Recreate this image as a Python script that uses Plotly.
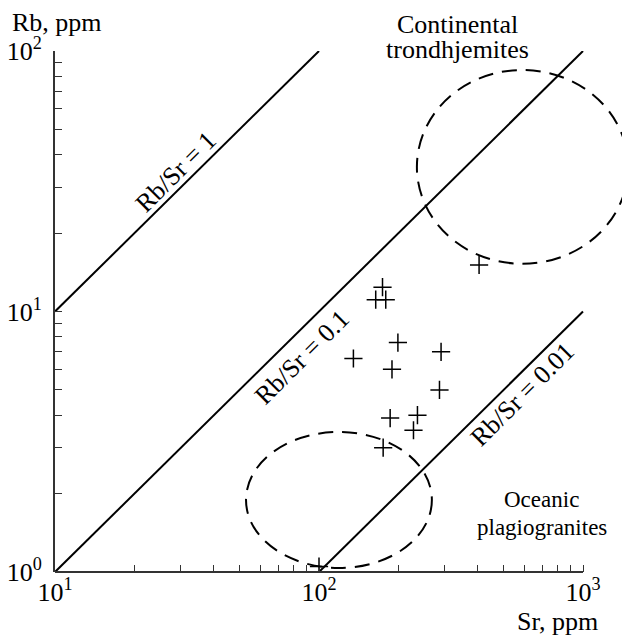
import math
import plotly.graph_objects as go

# ---------------- data ----------------
sr_points = [199, 290, 135, 189, 286, 186, 236, 228, 175, 404, 100, 174, 164, 179]
rb_points = [7.6, 7.0, 6.6, 6.0, 5.0, 3.9, 4.0, 3.5, 3.0, 15.1, 1.05, 12.4, 11.1, 11.1]

ratio_values = [1, 0.1, 0.01]
ratio_sr_start = [10, 10, 100]
ratio_sr_end = [100, 1000, 1000]
ratio_labels = ["Rb/Sr = 1", "Rb/Sr = 0.1", "Rb/Sr = 0.01"]

# fields: centre (Sr, Rb) and half-widths in decades
field_names = ["Continental trondhjemites", "Oceanic plagiogranites"]
field_center_sr = [590, 119]
field_center_rb = [35.9, 1.89]
field_half_dec_sr = [0.40, 0.352]
field_half_dec_rb = [0.372, 0.261]

x_tickvals = [10, 20, 30, 40, 50, 60, 70, 80, 90, 100, 200, 300, 400, 500, 600, 700, 800, 900, 1000]
y_tickvals = [1, 2, 3, 4, 5, 6, 7, 8, 9, 10, 20, 30, 40, 50, 60, 70, 80, 90, 100]
major_labels = {1: "10<sup>0</sup>", 10: "10<sup>1</sup>", 100: "10<sup>2</sup>", 1000: "10<sup>3</sup>"}

FONT = "Liberation Serif"
FS = 26
PAGE_OFF = 8  # default body margin of the html page
W, H = 630 - PAGE_OFF, 638 - PAGE_OFF
ML, MR, MT, MB = 55 - PAGE_OFF, 0, 51 - PAGE_OFF, 66
X_DEC = 264.0
PW = W - ML - MR
PH = H - MT - MB
x_span = PW / X_DEC

fig = go.Figure()

# ratio lines
for r, s0, s1 in zip(ratio_values, ratio_sr_start, ratio_sr_end):
    fig.add_trace(go.Scatter(x=[s0, s1], y=[r * s0, r * s1], mode="lines",
                             line=dict(color="black", width=2),
                             hoverinfo="skip", showlegend=False))

# sample points
fig.add_trace(go.Scatter(x=sr_points, y=rb_points, mode="markers",
                         marker=dict(symbol="cross-thin", size=13, color="black",
                                     line=dict(color="black", width=1.5)),
                         showlegend=False))

# dashed fields as ellipses in log space
for cs, cr, hx, hy in zip(field_center_sr, field_center_rb, field_half_dec_sr, field_half_dec_rb):
    lx, ly = math.log10(cs), math.log10(cr)
    fig.add_shape(type="circle", xref="x", yref="y",
                  x0=10 ** (lx - hx), x1=10 ** (lx + hx),
                  y0=10 ** (ly - hy), y1=10 ** (ly + hy),
                  line=dict(color="black", width=2, dash="15px,9px"))

# bottom axis line (only up to 10^3)
fig.add_shape(type="line", xref="x", yref="paper", x0=10, x1=1000, y0=0, y1=0,
              line=dict(color="#333", width=2))

# helpers: page pixel -> paper fraction
def pxp(px):
    return (px - PAGE_OFF - ML) / PW

def pyp(py):
    return (PAGE_OFF + MT + PH - py) / PH

def txt_ann(text, px, py, angle=0, xanchor="center", size=FS):
    fig.add_annotation(x=pxp(px), y=pyp(py), xref="paper", yref="paper", text=text,
                       showarrow=False, textangle=angle, xanchor=xanchor, yanchor="middle",
                       font=dict(family=FONT, size=size, color="black"))

# rotated ratio labels
label_pos = [(175, 172), (302, 358), (522, 394)]
for txt, (px, py) in zip(ratio_labels, label_pos):
    txt_ann(txt, px, py, angle=-45)

# field labels
txt_ann("Continental", 457, 25, size=26)
txt_ann("trondhjemites", 457, 50, size=26)
txt_ann("Oceanic", 541, 500, size=23)
txt_ann("plagiogranites", 542, 527, size=23)

# axis titles
txt_ann("Rb, ppm", 10, 22, xanchor="left")
txt_ann("Sr, ppm", 600, 621, xanchor="right")

fig.update_layout(
    width=W, height=H,
    margin=dict(l=ML, r=MR, t=MT, b=MB, pad=0, autoexpand=False),
    paper_bgcolor="white", plot_bgcolor="white",
    font=dict(family=FONT, size=FS, color="black"),
    xaxis=dict(type="log", range=[1, 1 + x_span], showgrid=False, zeroline=False,
               showline=False, ticks="inside", ticklen=7, tickwidth=1.3, tickcolor="#333",
               tickmode="array", tickvals=x_tickvals, automargin=False,
               ticktext=[major_labels.get(v, "") for v in x_tickvals],
               tickfont=dict(family=FONT, size=FS, color="black"), ticklabelstandoff=2),
    yaxis=dict(type="log", range=[0, 2], showgrid=False, zeroline=False,
               showline=True, linecolor="#333", linewidth=2, automargin=False,
               ticks="inside", ticklen=7, tickwidth=1.3, tickcolor="#333",
               tickmode="array", tickvals=y_tickvals,
               ticktext=[major_labels.get(v, "") for v in y_tickvals],
               tickfont=dict(family=FONT, size=FS, color="black"), ticklabelstandoff=6),
)

fig.write_html("out.html")
